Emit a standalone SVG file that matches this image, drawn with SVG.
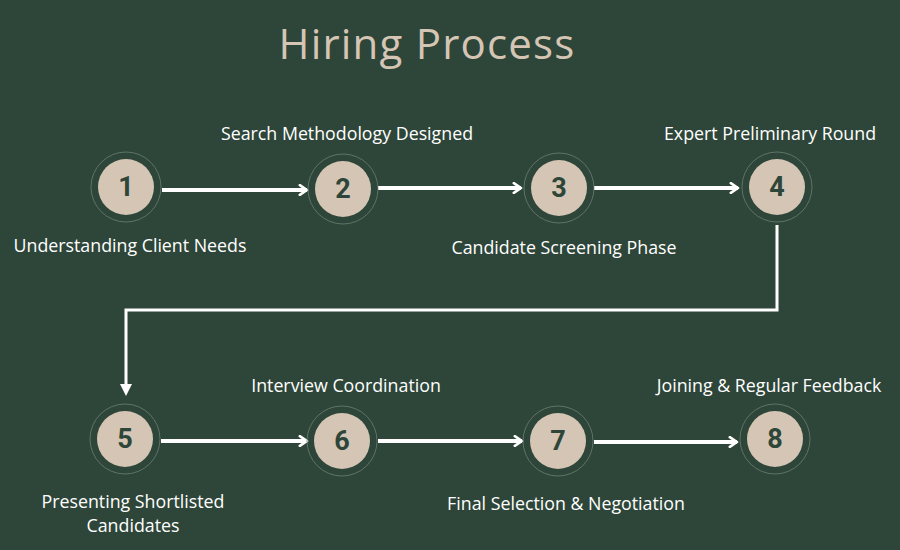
<svg xmlns="http://www.w3.org/2000/svg" width="900" height="550" viewBox="0 0 900 550">
<style>
.bg{fill:#2e4639}
.ring{fill:none;stroke:#6b7d72;stroke-width:0.8}
.disc{fill:#d5c5b4}
.num{font-family:"Roboto","DejaVu Sans",sans-serif;font-weight:bold;font-size:27px;fill:#2e4639;text-anchor:middle}
.lbl{font-family:"Open Sans","Noto Sans",sans-serif;font-size:17.8px;fill:#ffffff;text-anchor:middle}
.title{font-family:"Open Sans","Noto Sans",sans-serif;font-size:42px;letter-spacing:1.2px;fill:#d5c5b4;text-anchor:middle}
.conn{fill:none;stroke:#ffffff;stroke-width:4}
.conn2{fill:none;stroke:#ffffff;stroke-width:3}
</style>
<defs>
<marker id="chev" viewBox="0 0 10 10" refX="8" refY="5" markerWidth="3" markerHeight="3" orient="auto" markerUnits="strokeWidth">
<path d="M2,1 L8,5 L2,9" fill="none" stroke="#ffffff" stroke-width="2.2" stroke-linecap="round" stroke-linejoin="round"/>
</marker>
<marker id="tri" viewBox="0 0 10 10" refX="5" refY="5" markerWidth="4" markerHeight="4" orient="auto" markerUnits="strokeWidth">
<path d="M0,0 L10,5 L0,10 Z" fill="#ffffff"/>
</marker>
</defs>
<rect class="bg" x="0" y="0" width="900" height="550"/>
<text class="title" x="427" y="59">Hiring Process</text>
<g id="connectors">
<line class="conn" x1="162" y1="190" x2="307" y2="190" marker-end="url(#chev)"/>
<line class="conn" x1="378" y1="188" x2="521" y2="188" marker-end="url(#chev)"/>
<line class="conn" x1="594" y1="188" x2="738" y2="188" marker-end="url(#chev)"/>
<polyline class="conn2" points="777,225 777,310 126,310 126,390" marker-end="url(#tri)"/>
<line class="conn" x1="161" y1="441" x2="307" y2="441" marker-end="url(#chev)"/>
<line class="conn" x1="378" y1="441" x2="522" y2="441" marker-end="url(#chev)"/>
<line class="conn" x1="594" y1="442" x2="737" y2="442" marker-end="url(#chev)"/>
</g>
<g id="node1"><circle class="ring" cx="126" cy="187" r="35"/><circle class="disc" cx="126" cy="187" r="28"/><text class="num" x="126" y="196">1</text><text class="lbl" x="130" y="252">Understanding Client Needs</text></g>
<g id="node2"><circle class="ring" cx="343" cy="189" r="35"/><circle class="disc" cx="343" cy="189" r="28"/><text class="num" x="343" y="198">2</text><text class="lbl" x="347" y="140">Search Methodology Designed</text></g>
<g id="node3"><circle class="ring" cx="559" cy="188" r="35"/><circle class="disc" cx="559" cy="188" r="28"/><text class="num" x="559" y="197">3</text><text class="lbl" x="564" y="254">Candidate Screening Phase</text></g>
<g id="node4"><circle class="ring" cx="777" cy="187" r="35"/><circle class="disc" cx="777" cy="187" r="28"/><text class="num" x="777" y="196">4</text><text class="lbl" x="770" y="140">Expert Preliminary Round</text></g>
<g id="node5"><circle class="ring" cx="125" cy="439" r="35"/><circle class="disc" cx="125" cy="439" r="28"/><text class="num" x="125" y="448">5</text><text class="lbl" x="133" y="508">Presenting Shortlisted</text><text class="lbl" x="133" y="532">Candidates</text></g>
<g id="node6"><circle class="ring" cx="342" cy="441" r="35"/><circle class="disc" cx="342" cy="441" r="28"/><text class="num" x="342" y="450">6</text><text class="lbl" x="346" y="392">Interview Coordination</text></g>
<g id="node7"><circle class="ring" cx="558" cy="441" r="35"/><circle class="disc" cx="558" cy="441" r="28"/><text class="num" x="558" y="450">7</text><text class="lbl" x="566" y="510">Final Selection &amp; Negotiation</text></g>
<g id="node8"><circle class="ring" cx="775" cy="439" r="35"/><circle class="disc" cx="775" cy="439" r="28"/><text class="num" x="775" y="448">8</text><text class="lbl" x="769" y="392">Joining &amp; Regular Feedback</text></g>
</svg>
